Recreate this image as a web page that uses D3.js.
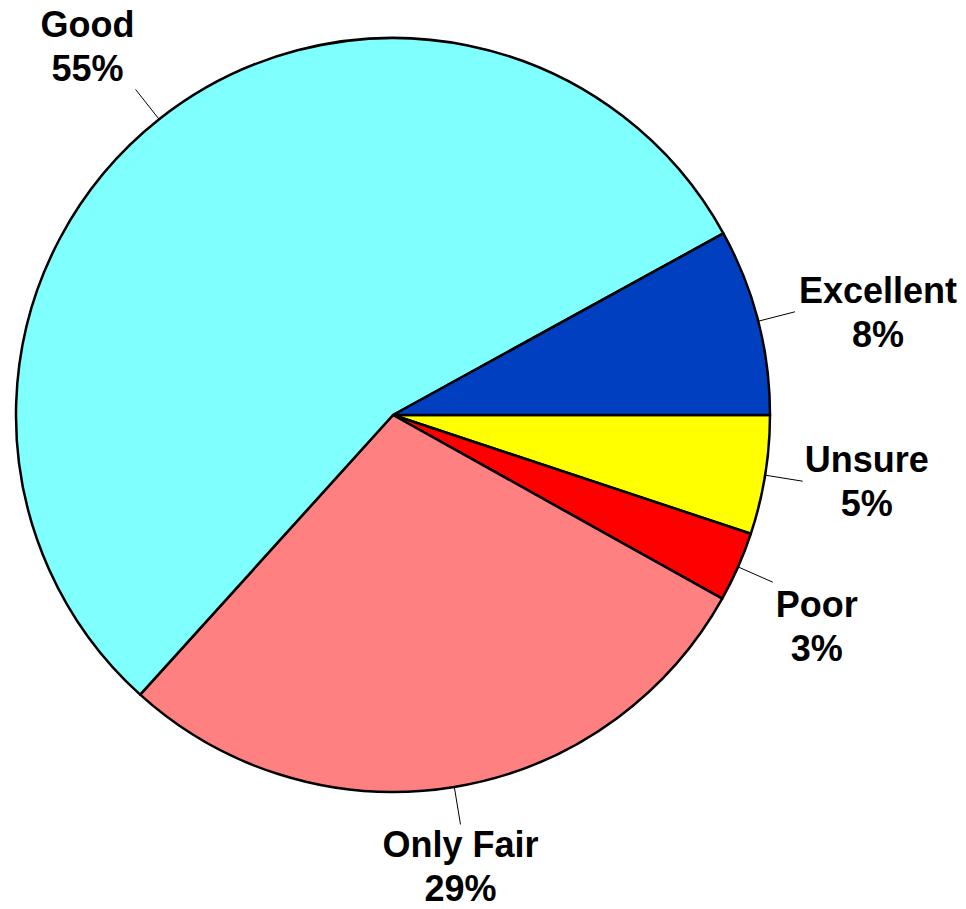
<!DOCTYPE html>
<html>
<head>
<meta charset="utf-8">
<script src="https://cdn.jsdelivr.net/npm/d3@7"></script>
<style>
  html, body { margin: 0; padding: 0; background: #ffffff; }
  svg { display: block; }
</style>
</head>
<body>
<div id="chart"></div>
<script>
// Data (clockwise from 3 o'clock)
const categories = ["Unsure", "Poor", "Only Fair", "Good", "Excellent"];
const values = [5.1, 3.0, 28.6, 55.3, 8.0];
const colors = ["#FFFF00", "#FF0000", "#FF8080", "#80FFFF", "#0040C0"];

// Label placement offsets relative to leader-line end (layout only)
const labelOffsets = [[64, -9], [44, 35], [0, 33], [-48, -53], [83, -9]];

const W = 966, H = 909;
const cx = 393, cy = 415, R = 377, leaderLen = 38;

const svg = d3.select("#chart").append("svg")
  .attr("width", W).attr("height", H);

const g = svg.append("g").attr("transform", `translate(${cx},${cy})`);

const data = categories.map((c, i) => ({ name: c, value: values[i], color: colors[i], off: labelOffsets[i] }));

const pie = d3.pie().sort(null).value(d => d.value)
  .startAngle(Math.PI / 2).endAngle(Math.PI / 2 + 2 * Math.PI);
const arcs = pie(data);
const arc = d3.arc().innerRadius(0).outerRadius(R);

g.selectAll("path.slice").data(arcs).join("path")
  .attr("class", "slice")
  .attr("d", arc)
  .attr("fill", d => d.data.color)
  .attr("stroke", "#000")
  .attr("stroke-width", 2.5)
  .attr("stroke-linejoin", "round");

function pt(a, r) { return [Math.sin(a) * r, -Math.cos(a) * r]; }

arcs.forEach(d => {
  const mid = (d.startAngle + d.endAngle) / 2;
  const p0 = pt(mid, R);
  const p1 = pt(mid, R + leaderLen);
  g.append("line")
    .attr("x1", p0[0]).attr("y1", p0[1])
    .attr("x2", p1[0]).attr("y2", p1[1])
    .attr("stroke", "#000").attr("stroke-width", 1);
  const tx = p1[0] + d.data.off[0], ty = p1[1] + d.data.off[1];
  const t = g.append("text")
    .attr("text-anchor", "middle")
    .attr("font-family", "'Liberation Sans', Arial, sans-serif")
    .attr("font-weight", "bold")
    .attr("font-size", 36)
    .attr("fill", "#000");
  t.append("tspan").attr("x", tx).attr("y", ty).text(d.data.name);
  t.append("tspan").attr("x", tx).attr("y", ty + 44).text(Math.round(d.data.value) + "%");
});
</script>
</body>
</html>
